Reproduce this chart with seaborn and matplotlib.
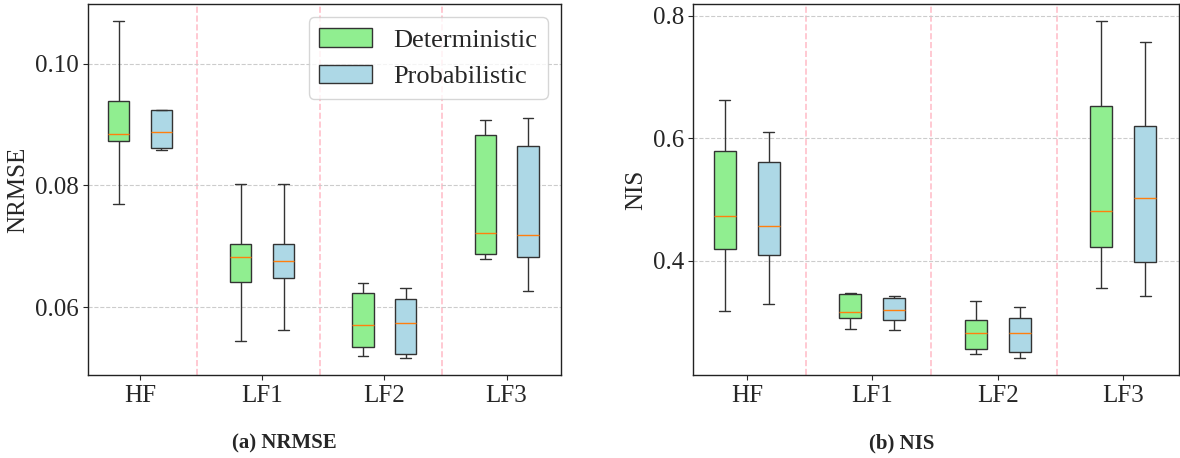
import numpy as np
import pandas as pd
import matplotlib
matplotlib.use("Agg")
import matplotlib.pyplot as plt
import seaborn as sns
from matplotlib.patches import Patch

groups = ["HF", "LF1", "LF2", "LF3"]
methods = ["Deterministic", "Probabilistic"]

# five-number summaries [min, q1, median, q3, max]
nrmse_det = [
    [0.0770, 0.0873, 0.0884, 0.0939, 0.1070],
    [0.0544, 0.0641, 0.0682, 0.0704, 0.0803],
    [0.0519, 0.0535, 0.0570, 0.0623, 0.0639],
    [0.0679, 0.0688, 0.0721, 0.0883, 0.0908],
]
nrmse_prob = [
    [0.0858, 0.0861, 0.0888, 0.0924, 0.0924],
    [0.0563, 0.0648, 0.0675, 0.0703, 0.0803],
    [0.0516, 0.0523, 0.0574, 0.0613, 0.0632],
    [0.0626, 0.0682, 0.0719, 0.0864, 0.0910],
]
nis_det = [
    [0.3172, 0.4196, 0.4736, 0.5798, 0.6632],
    [0.2883, 0.3057, 0.3166, 0.3455, 0.3471],
    [0.2469, 0.2561, 0.2823, 0.3025, 0.3335],
    [0.3559, 0.4229, 0.4817, 0.6523, 0.7913],
]
nis_prob = [
    [0.3286, 0.4098, 0.4572, 0.5613, 0.6109],
    [0.2866, 0.3025, 0.3199, 0.3390, 0.3417],
    [0.2409, 0.2507, 0.2812, 0.3063, 0.3237],
    [0.3428, 0.3984, 0.5030, 0.6207, 0.7569],
]

colors = {"Deterministic": "#90EE90", "Probabilistic": "#ADD8E6"}


def long_frame(det, prob):
    rows = []
    for m, arr in zip(methods, [det, prob]):
        for g, vals in zip(groups, arr):
            for v in vals:
                rows.append({"Group": g, "Method": m, "Value": v})
    return pd.DataFrame(rows)


sns.set_style("ticks")
plt.rcParams["font.family"] = ["Liberation Serif", "DejaVu Serif"]
plt.rcParams["axes.edgecolor"] = "#222222"

fig = plt.figure(figsize=(11.8, 4.58), dpi=100)
ax1 = fig.add_axes([0.0746, 0.1812, 0.4008, 0.8094])
ax2 = fig.add_axes([0.5877, 0.1812, 0.4115, 0.8094])

for ax, det, prob, ylabel in [(ax1, nrmse_det, nrmse_prob, "NRMSE"),
                              (ax2, nis_det, nis_prob, "NIS")]:
    df = long_frame(det, prob)
    sns.boxplot(data=df, x="Group", y="Value", hue="Method", order=groups,
                hue_order=methods, palette=colors, saturation=1,
                width=0.7, gap=0.5, whis=(0, 100), linecolor="#333333",
                linewidth=1.0, legend=False, ax=ax,
                medianprops=dict(color="#ff7f0e", linewidth=1.0))
    ax.set_xlim(-0.425, 3.445)
    for i in range(len(groups) - 1):
        ax.axvline(i + 0.47, color="pink", linestyle="--", linewidth=1.2, zorder=0)
    ax.yaxis.grid(True, linestyle="--", color="#cccccc", linewidth=0.8)
    ax.set_axisbelow(True)
    ax.set_xlabel("")
    ax.set_ylabel(ylabel, fontsize=18)
    ax.tick_params(axis="both", labelsize=18, direction="out", length=3.5, width=0.8)
    for s in ax.spines.values():
        s.set_visible(True)
        s.set_linewidth(1.0)

ax1.set_yticks([0.06, 0.08, 0.10])
ax1.set_yticklabels(["0.06", "0.08", "0.10"])
ax2.set_yticks([0.4, 0.6, 0.8])
ax2.set_yticklabels(["0.4", "0.6", "0.8"])

handles = [Patch(facecolor=colors[m], edgecolor="#333333", label=m) for m in methods]
ax1.legend(handles=handles, loc="upper right", fontsize=19, frameon=True,
           handlelength=2.0, handleheight=0.7, borderpad=0.4, framealpha=0.8)

fig.text(284 / 1180, 1 - 443 / 458, "(a) NRMSE", ha="center", va="center",
         fontsize=15, fontweight="bold")
fig.text(902 / 1180, 1 - 443 / 458, "(b) NIS", ha="center", va="center",
         fontsize=15, fontweight="bold")

fig.savefig("out.png", dpi=100)
